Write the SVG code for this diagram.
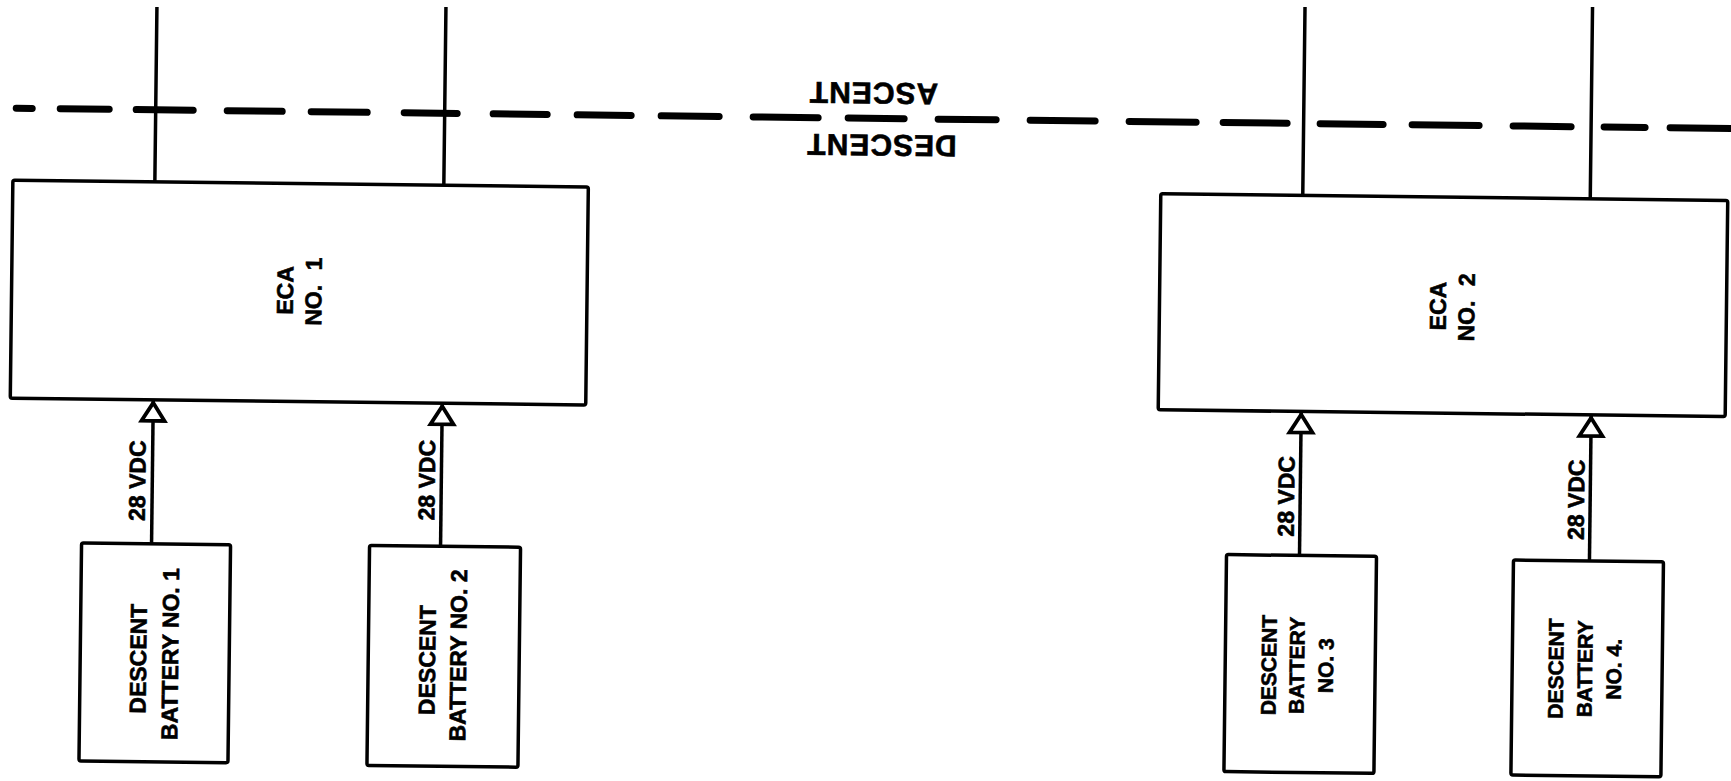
<svg xmlns="http://www.w3.org/2000/svg" width="1731" height="781" viewBox="0 0 1731 781">
<style>
.box{fill:#fff;stroke:#000;stroke-width:3.5;stroke-linejoin:round}
.wire{fill:none;stroke:#000;stroke-width:3.5}
.dash{fill:none;stroke:#000;stroke-width:7;stroke-linecap:round}
text{font-family:"Liberation Sans",Arial,sans-serif;font-weight:bold;fill:#000;stroke:#000;stroke-width:0.6;text-anchor:middle}
.t23{font-size:23px}
.t21{font-size:21px}
.t30{font-size:30px;letter-spacing:1px}
</style>
<defs>
<marker id="arr" markerUnits="userSpaceOnUse" viewBox="-26 -16 30 32" markerWidth="30" markerHeight="32" refX="0" refY="0" orient="auto" overflow="visible">
<polygon points="-2,0 -20,-11.5 -20,11.5" fill="#fff" stroke="#000" stroke-width="3.8" stroke-linejoin="miter"/>
</marker>
</defs>
<rect width="1731" height="781" fill="#fff"/>
<g transform="rotate(0.68)">
<g id="boundary">
<path class="dash" d="M17.5 108H33.5M61.5 108H110.5M137.5 108H194.5M228.5 108H283.5M312.5 108H368.5M405.5 108H458.5M494.5 108H548.5M578.5 108H632.5M662.5 108H720.5M754.5 108H819.5M849.5 108H905.5M939.5 108H997.5M1031.5 108H1096.5M1130.5 108H1197.5M1224.5 108H1288.5M1321.5 108H1384.5M1413.5 108H1480.5M1514.5 108H1572.5M1605.5 108H1646.5M1671.5 108H1745"/>
<text class="t30" transform="translate(874.6,72.5) rotate(180)">ASCENT</text>
<text class="t30" transform="translate(883.2,124.5) rotate(180)">DESCENT</text>
</g>
<g id="connectors">
<path class="wire" d="M157 5.1V180M446 1.7V180M1305 -8.5V180M1592.5 -11.9V180"/>
<path class="wire" d="M158 542V399" marker-end="url(#arr)"/>
<path class="wire" d="M447 541V399" marker-end="url(#arr)"/>
<path class="wire" d="M1306 540V397" marker-end="url(#arr)"/>
<path class="wire" d="M1596 542V397" marker-end="url(#arr)"/>
<text class="t23" transform="translate(151,479) rotate(-90)">28 VDC</text>
<text class="t23" transform="translate(440.5,475) rotate(-90)">28 VDC</text>
<text class="t23" transform="translate(1300,481) rotate(-90)">28 VDC</text>
<text class="t23" transform="translate(1590,481) rotate(-90)">28 VDC</text>
</g>
<g id="eca1">
<rect class="box" x="15" y="180" width="575.5" height="218" rx="2"/>
<text class="t23" transform="translate(296.5,287) rotate(-90)">ECA</text>
<text class="t23" transform="translate(325,288) rotate(-90)" word-spacing="8">NO. 1</text>
</g>
<g id="eca2">
<rect class="box" x="1163" y="180" width="567" height="216" rx="2"/>
<text class="t23" transform="translate(1449.5,289) rotate(-90)">ECA</text>
<text class="t23" transform="translate(1478,290) rotate(-90)" word-spacing="8">NO. 2</text>
</g>
<g id="battery1">
<rect class="box" x="88" y="542" width="149" height="218" rx="2"/>
<text class="t23" transform="translate(154,657) rotate(-90)">DESCENT</text>
<text class="t23" transform="translate(186,652) rotate(-90)">BATTERY NO. 1</text>
</g>
<g id="battery2">
<rect class="box" x="376" y="541" width="151" height="220" rx="2"/>
<text class="t23" transform="translate(443,655) rotate(-90)">DESCENT</text>
<text class="t23" transform="translate(474,650) rotate(-90)">BATTERY NO. 2</text>
</g>
<g id="battery3">
<rect class="box" x="1233" y="540" width="150" height="217" rx="2"/>
<text class="t21" transform="translate(1284,650) rotate(-90)">DESCENT</text>
<text class="t21" transform="translate(1312,650) rotate(-90)">BATTERY</text>
<text class="t21" transform="translate(1341,650) rotate(-90)">NO. 3</text>
</g>
<g id="battery4">
<rect class="box" x="1520" y="542" width="150" height="215" rx="2"/>
<text class="t21" transform="translate(1571,650) rotate(-90)">DESCENT</text>
<text class="t21" transform="translate(1600,650) rotate(-90)">BATTERY</text>
<text class="t21" transform="translate(1629,650) rotate(-90)">NO. 4.</text>
</g>
</g>
</svg>
